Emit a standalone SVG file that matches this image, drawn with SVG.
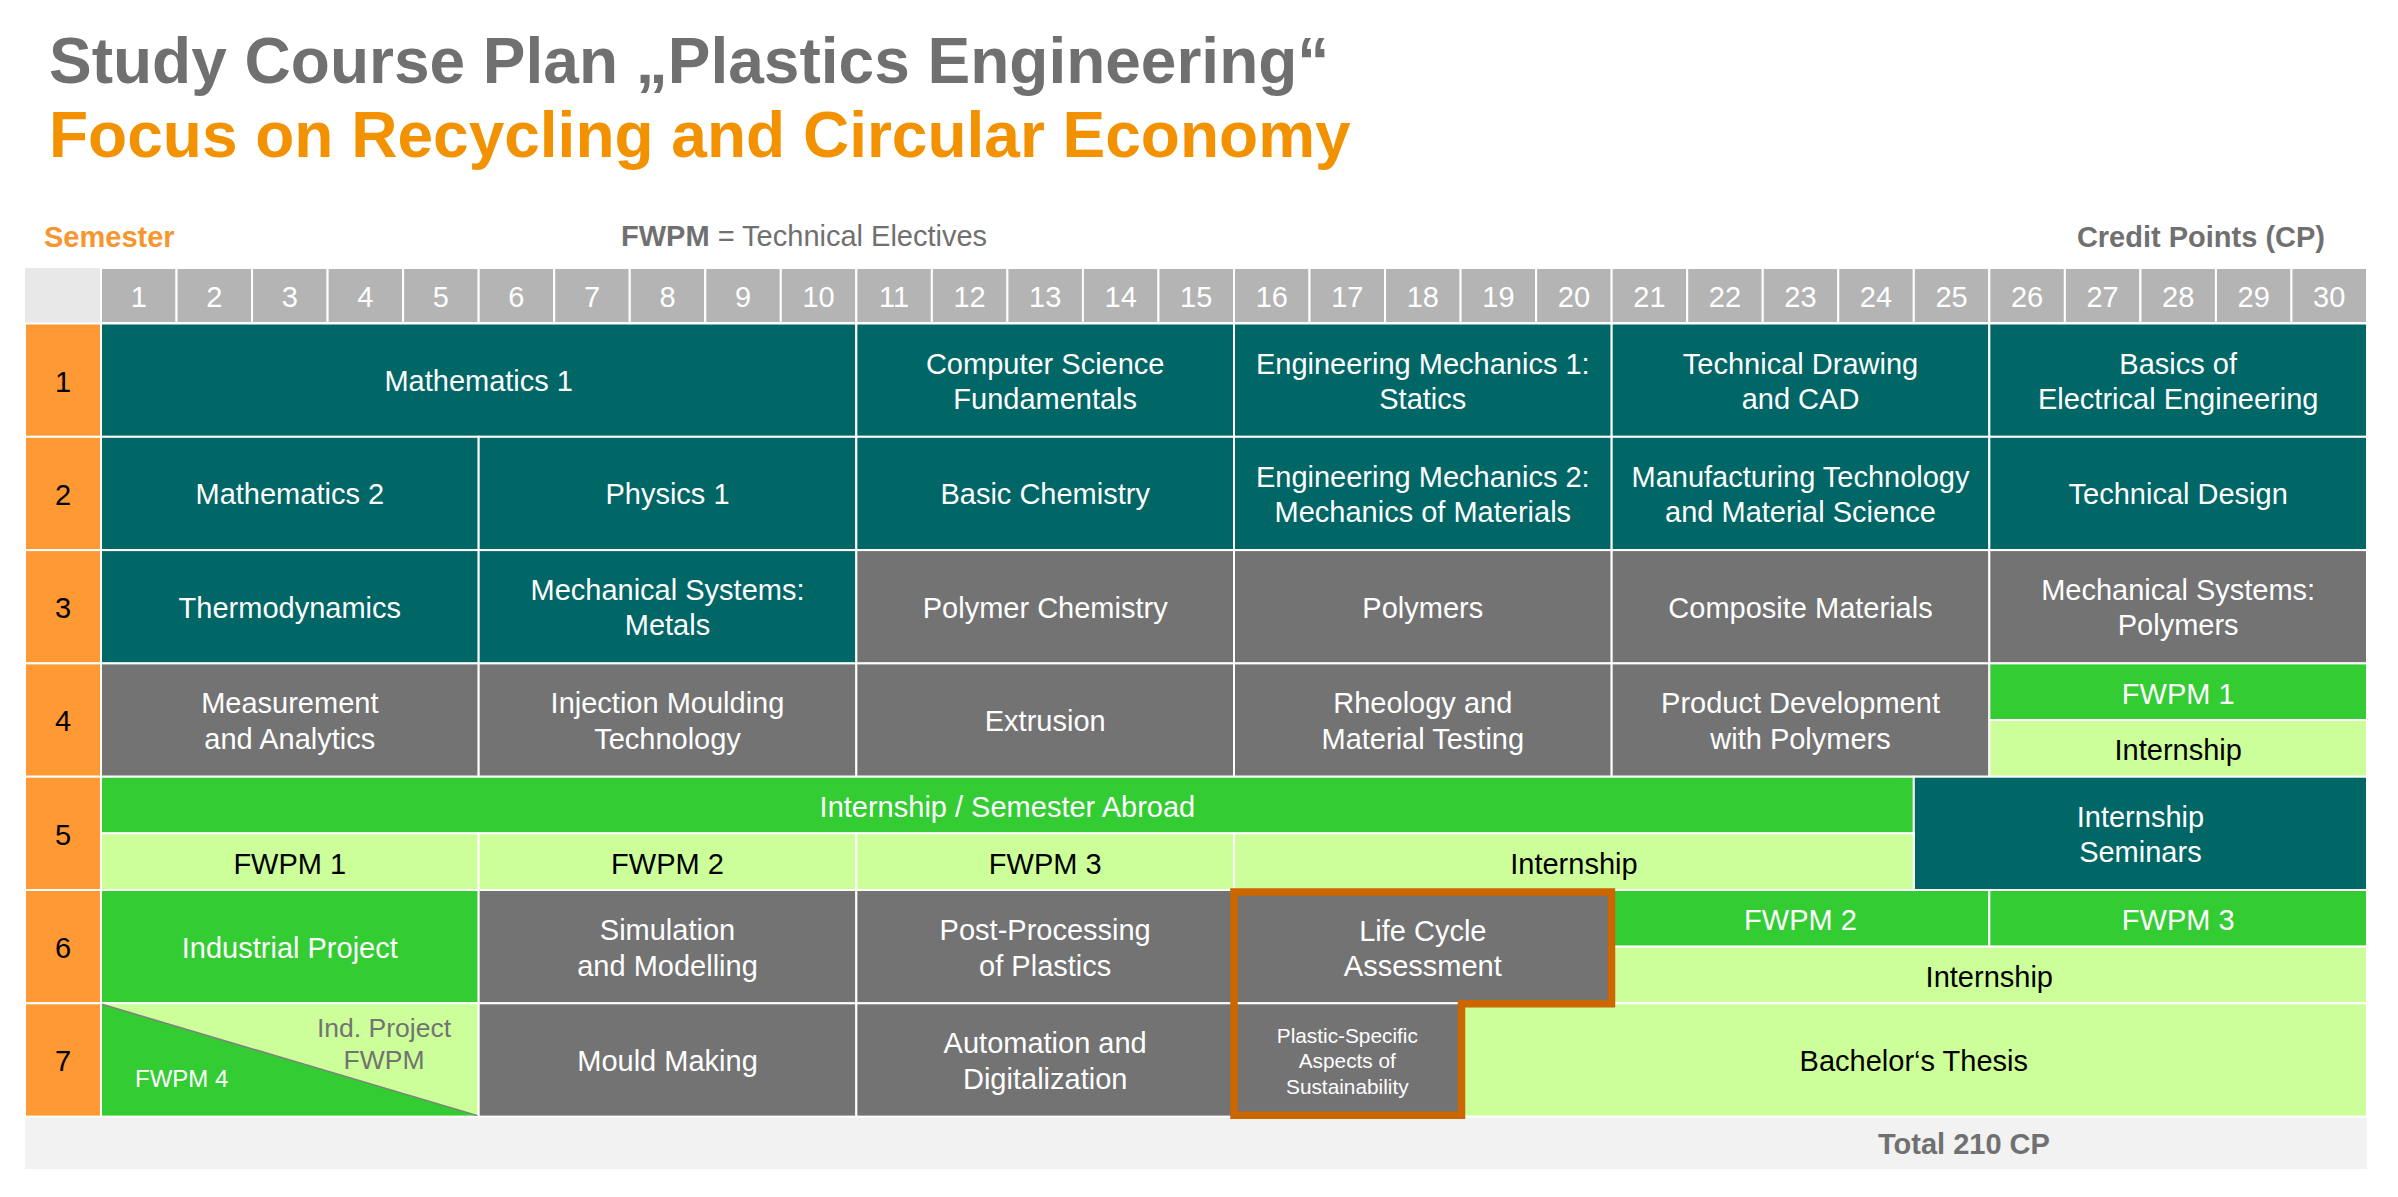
<svg xmlns="http://www.w3.org/2000/svg" width="2398" height="1197" viewBox="0 0 2398 1197">
<style>
text{font-family:"Liberation Sans",Arial,Helvetica,sans-serif}
.c{font-size:29px;text-anchor:middle}
.w{fill:#ffffff}
.k{fill:#000000}
.g{fill:#737373}
.b{font-weight:bold}
.cell{stroke:#ffffff;stroke-width:2}
.teal{fill:#006666}
.gry{fill:#737373}
.grn{fill:#33CC33}
.lgr{fill:#CCFF99}
.hdr{fill:#B4B4B4}
.sem{fill:#FF9933}
.sm{font-size:20.8px;text-anchor:middle}
</style>
<rect x="0" y="0" width="2398" height="1197" fill="#ffffff"/>

<g id="title">
<text x="49" y="83" font-size="64" class="b" fill="#707070">Study Course Plan „Plastics Engineering“</text>
<text x="49" y="157" font-size="64" class="b" fill="#F39200">Focus on Recycling and Circular Economy</text>
</g>

<g id="labels">
<text x="44" y="247" font-size="29" class="b" fill="#F7962F">Semester</text>
<text x="621" y="246" font-size="29" fill="#707070"><tspan font-weight="bold">FWPM</tspan> = Technical Electives</text>
<text x="2325" y="247" font-size="29" class="b" fill="#707070" text-anchor="end">Credit Points (CP)</text>
</g>

<g id="header">
<rect x="25" y="268" width="76" height="55" fill="#E8E8E8"/>
<g class="cell hdr">
<rect x="101" y="268" width="75.53" height="55"/><rect x="176.53" y="268" width="75.53" height="55"/><rect x="252.07" y="268" width="75.53" height="55"/><rect x="327.6" y="268" width="75.53" height="55"/><rect x="403.13" y="268" width="75.53" height="55"/>
<rect x="478.67" y="268" width="75.53" height="55"/><rect x="554.2" y="268" width="75.53" height="55"/><rect x="629.73" y="268" width="75.53" height="55"/><rect x="705.27" y="268" width="75.53" height="55"/><rect x="780.8" y="268" width="75.53" height="55"/>
<rect x="856.33" y="268" width="75.53" height="55"/><rect x="931.87" y="268" width="75.53" height="55"/><rect x="1007.4" y="268" width="75.53" height="55"/><rect x="1082.93" y="268" width="75.53" height="55"/><rect x="1158.47" y="268" width="75.53" height="55"/>
<rect x="1234" y="268" width="75.53" height="55"/><rect x="1309.53" y="268" width="75.53" height="55"/><rect x="1385.07" y="268" width="75.53" height="55"/><rect x="1460.6" y="268" width="75.53" height="55"/><rect x="1536.13" y="268" width="75.53" height="55"/>
<rect x="1611.67" y="268" width="75.53" height="55"/><rect x="1687.2" y="268" width="75.53" height="55"/><rect x="1762.73" y="268" width="75.53" height="55"/><rect x="1838.27" y="268" width="75.53" height="55"/><rect x="1913.8" y="268" width="75.53" height="55"/>
<rect x="1989.33" y="268" width="75.53" height="55"/><rect x="2064.87" y="268" width="75.53" height="55"/><rect x="2140.4" y="268" width="75.53" height="55"/><rect x="2215.93" y="268" width="75.53" height="55"/><rect x="2291.47" y="268" width="75.53" height="55"/>
</g>
<g class="c w">
<text x="138.8" y="306.5">1</text><text x="214.3" y="306.5">2</text><text x="289.8" y="306.5">3</text><text x="365.4" y="306.5">4</text><text x="440.9" y="306.5">5</text>
<text x="516.4" y="306.5">6</text><text x="592" y="306.5">7</text><text x="667.5" y="306.5">8</text><text x="743" y="306.5">9</text><text x="818.6" y="306.5">10</text>
<text x="894.1" y="306.5">11</text><text x="969.6" y="306.5">12</text><text x="1045.2" y="306.5">13</text><text x="1120.7" y="306.5">14</text><text x="1196.2" y="306.5">15</text>
<text x="1271.8" y="306.5">16</text><text x="1347.3" y="306.5">17</text><text x="1422.8" y="306.5">18</text><text x="1498.4" y="306.5">19</text><text x="1573.9" y="306.5">20</text>
<text x="1649.4" y="306.5">21</text><text x="1725" y="306.5">22</text><text x="1800.5" y="306.5">23</text><text x="1876" y="306.5">24</text><text x="1951.6" y="306.5">25</text>
<text x="2027.1" y="306.5">26</text><text x="2102.6" y="306.5">27</text><text x="2178.2" y="306.5">28</text><text x="2253.7" y="306.5">29</text><text x="2329.2" y="306.5">30</text>
</g>
</g>

<g id="semesters">
<g class="cell sem">
<rect x="25" y="323.5" width="76" height="113.3"/><rect x="25" y="436.8" width="76" height="113.3"/><rect x="25" y="550.1" width="76" height="113.3"/><rect x="25" y="663.4" width="76" height="113.3"/><rect x="25" y="776.7" width="76" height="113.3"/><rect x="25" y="890" width="76" height="113.3"/><rect x="25" y="1003.3" width="76" height="113.3"/>
</g>
<g class="c k">
<text x="63" y="391.5">1</text><text x="63" y="504.8">2</text><text x="63" y="618.1">3</text><text x="63" y="731.4">4</text><text x="63" y="844.7">5</text><text x="63" y="958">6</text><text x="63" y="1071.3">7</text>
</g>
</g>

<!-- Semester 1 -->
<g id="mathematics-1"><rect class="cell teal" x="101" y="323.5" width="755.33" height="113.3"/><text class="c w" x="478.7" y="391">Mathematics 1</text></g>
<g id="computer-science"><rect class="cell teal" x="856.33" y="323.5" width="377.67" height="113.3"/><text class="c w" x="1045.2" y="373.5">Computer Science</text><text class="c w" x="1045.2" y="408.8">Fundamentals</text></g>
<g id="eng-mechanics-1"><rect class="cell teal" x="1234" y="323.5" width="377.67" height="113.3"/><text class="c w" x="1422.8" y="373.5">Engineering Mechanics 1:</text><text class="c w" x="1422.8" y="408.8">Statics</text></g>
<g id="technical-drawing"><rect class="cell teal" x="1611.67" y="323.5" width="377.67" height="113.3"/><text class="c w" x="1800.5" y="373.5">Technical Drawing</text><text class="c w" x="1800.5" y="408.8">and CAD</text></g>
<g id="electrical-engineering"><rect class="cell teal" x="1989.33" y="323.5" width="377.67" height="113.3"/><text class="c w" x="2178.2" y="373.5">Basics of</text><text class="c w" x="2178.2" y="408.8">Electrical Engineering</text></g>

<!-- Semester 2 -->
<g id="mathematics-2"><rect class="cell teal" x="101" y="436.8" width="377.67" height="113.3"/><text class="c w" x="289.8" y="504.4">Mathematics 2</text></g>
<g id="physics-1"><rect class="cell teal" x="478.67" y="436.8" width="377.67" height="113.3"/><text class="c w" x="667.5" y="504.4">Physics 1</text></g>
<g id="basic-chemistry"><rect class="cell teal" x="856.33" y="436.8" width="377.67" height="113.3"/><text class="c w" x="1045.2" y="504.4">Basic Chemistry</text></g>
<g id="eng-mechanics-2"><rect class="cell teal" x="1234" y="436.8" width="377.67" height="113.3"/><text class="c w" x="1422.8" y="486.8">Engineering Mechanics 2:</text><text class="c w" x="1422.8" y="522.1">Mechanics of Materials</text></g>
<g id="manufacturing-technology"><rect class="cell teal" x="1611.67" y="436.8" width="377.67" height="113.3"/><text class="c w" x="1800.5" y="486.8">Manufacturing Technology</text><text class="c w" x="1800.5" y="522.1">and Material Science</text></g>
<g id="technical-design"><rect class="cell teal" x="1989.33" y="436.8" width="377.67" height="113.3"/><text class="c w" x="2178.2" y="504.4">Technical Design</text></g>

<!-- Semester 3 -->
<g id="thermodynamics"><rect class="cell teal" x="101" y="550.1" width="377.67" height="113.3"/><text class="c w" x="289.8" y="617.7">Thermodynamics</text></g>
<g id="mech-systems-metals"><rect class="cell teal" x="478.67" y="550.1" width="377.67" height="113.3"/><text class="c w" x="667.5" y="600.1">Mechanical Systems:</text><text class="c w" x="667.5" y="635.4">Metals</text></g>
<g id="polymer-chemistry"><rect class="cell gry" x="856.33" y="550.1" width="377.67" height="113.3"/><text class="c w" x="1045.2" y="617.7">Polymer Chemistry</text></g>
<g id="polymers"><rect class="cell gry" x="1234" y="550.1" width="377.67" height="113.3"/><text class="c w" x="1422.8" y="617.7">Polymers</text></g>
<g id="composite-materials"><rect class="cell gry" x="1611.67" y="550.1" width="377.67" height="113.3"/><text class="c w" x="1800.5" y="617.7">Composite Materials</text></g>
<g id="mech-systems-polymers"><rect class="cell gry" x="1989.33" y="550.1" width="377.67" height="113.3"/><text class="c w" x="2178.2" y="600.1">Mechanical Systems:</text><text class="c w" x="2178.2" y="635.4">Polymers</text></g>

<!-- Semester 4 -->
<g id="measurement"><rect class="cell gry" x="101" y="663.4" width="377.67" height="113.3"/><text class="c w" x="289.8" y="713.4">Measurement</text><text class="c w" x="289.8" y="748.7">and Analytics</text></g>
<g id="injection-moulding"><rect class="cell gry" x="478.67" y="663.4" width="377.67" height="113.3"/><text class="c w" x="667.5" y="713.4">Injection Moulding</text><text class="c w" x="667.5" y="748.7">Technology</text></g>
<g id="extrusion"><rect class="cell gry" x="856.33" y="663.4" width="377.67" height="113.3"/><text class="c w" x="1045.2" y="731">Extrusion</text></g>
<g id="rheology"><rect class="cell gry" x="1234" y="663.4" width="377.67" height="113.3"/><text class="c w" x="1422.8" y="713.4">Rheology and</text><text class="c w" x="1422.8" y="748.7">Material Testing</text></g>
<g id="product-development"><rect class="cell gry" x="1611.67" y="663.4" width="377.67" height="113.3"/><text class="c w" x="1800.5" y="713.4">Product Development</text><text class="c w" x="1800.5" y="748.7">with Polymers</text></g>
<g id="s4-fwpm-1"><rect class="cell grn" x="1989.33" y="663.4" width="377.67" height="56.65"/><text class="c w" x="2178.2" y="703.5">FWPM 1</text></g>
<g id="s4-internship"><rect class="cell lgr" x="1989.33" y="720.05" width="377.67" height="56.65"/><text class="c k" x="2178.2" y="760.3">Internship</text></g>

<!-- Semester 5 -->
<g id="internship-abroad"><rect class="cell grn" x="101" y="776.7" width="1812.8" height="56.65"/><text class="c w" x="1007.4" y="816.8">Internship / Semester Abroad</text></g>
<g id="internship-seminars"><rect class="cell teal" x="1913.8" y="776.7" width="453.2" height="113.3"/><text class="c w" x="2140.4" y="826.7">Internship</text><text class="c w" x="2140.4" y="862">Seminars</text></g>
<g id="s5-fwpm-1"><rect class="cell lgr" x="101" y="833.35" width="377.67" height="56.65"/><text class="c k" x="289.8" y="874">FWPM 1</text></g>
<g id="s5-fwpm-2"><rect class="cell lgr" x="478.67" y="833.35" width="377.67" height="56.65"/><text class="c k" x="667.5" y="874">FWPM 2</text></g>
<g id="s5-fwpm-3"><rect class="cell lgr" x="856.33" y="833.35" width="377.67" height="56.65"/><text class="c k" x="1045.2" y="874">FWPM 3</text></g>
<g id="s5-internship"><rect class="cell lgr" x="1234" y="833.35" width="679.8" height="56.65"/><text class="c k" x="1573.9" y="874">Internship</text></g>

<!-- Semester 6 -->
<g id="industrial-project"><rect class="cell grn" x="101" y="890" width="377.67" height="113.3"/><text class="c w" x="289.8" y="957.8">Industrial Project</text></g>
<g id="simulation"><rect class="cell gry" x="478.67" y="890" width="377.67" height="113.3"/><text class="c w" x="667.5" y="940.2">Simulation</text><text class="c w" x="667.5" y="975.5">and Modelling</text></g>
<g id="post-processing"><rect class="cell gry" x="856.33" y="890" width="377.67" height="113.3"/><text class="c w" x="1045.2" y="940.2">Post-Processing</text><text class="c w" x="1045.2" y="975.5">of Plastics</text></g>
<g id="life-cycle-assessment"><rect class="cell gry" x="1234" y="890" width="377.67" height="113.3"/><text class="c w" x="1422.8" y="940.7">Life Cycle</text><text class="c w" x="1422.8" y="976">Assessment</text></g>
<g id="s6-fwpm-2"><rect class="cell grn" x="1611.67" y="890" width="377.67" height="56.65"/><text class="c w" x="1800.5" y="930.2">FWPM 2</text></g>
<g id="s6-fwpm-3"><rect class="cell grn" x="1989.33" y="890" width="377.67" height="56.65"/><text class="c w" x="2178.2" y="930.2">FWPM 3</text></g>
<g id="s6-internship"><rect class="cell lgr" x="1611.67" y="946.65" width="755.33" height="56.65"/><text class="c k" x="1989.3" y="986.9">Internship</text></g>

<!-- Semester 7 -->
<g id="fwpm-4-ind-project">
<rect class="cell lgr" x="101" y="1003.3" width="377.67" height="113.3"/>
<polygon points="102,1004.3 477.67,1115.6 102,1115.6" fill="#33CC33"/>
<line x1="102" y1="1004.3" x2="477.67" y2="1115.6" stroke="#808080" stroke-width="1.5"/>
<text class="g" x="384" y="1036.7" font-size="26.5" text-anchor="middle">Ind. Project</text>
<text class="g" x="384" y="1069" font-size="26.5" text-anchor="middle">FWPM</text>
<text class="w" x="135" y="1087.3" font-size="24">FWPM 4</text>
</g>
<g id="mould-making"><rect class="cell gry" x="478.67" y="1003.3" width="377.67" height="113.3"/><text class="c w" x="667.5" y="1070.9">Mould Making</text></g>
<g id="automation"><rect class="cell gry" x="856.33" y="1003.3" width="377.67" height="113.3"/><text class="c w" x="1045.2" y="1053.3">Automation and</text><text class="c w" x="1045.2" y="1088.6">Digitalization</text></g>
<g id="plastic-specific"><rect class="cell gry" x="1234" y="1003.3" width="226.6" height="113.3"/><text class="w sm" x="1347.3" y="1042.7">Plastic-Specific</text><text class="w sm" x="1347.3" y="1068.3">Aspects of</text><text class="w sm" x="1347.3" y="1094">Sustainability</text></g>
<g id="bachelors-thesis"><rect class="cell lgr" x="1460.6" y="1003.3" width="906.4" height="113.3"/><text class="c k" x="1913.8" y="1070.9">Bachelor‘s Thesis</text></g>

<g id="total">
<rect x="25" y="1117.6" width="2342" height="51.4" fill="#F2F2F2"/>
<text x="1878" y="1154" font-size="29" class="b" fill="#707070">Total 210 CP</text>
</g>

<g id="highlight">
<path d="M1234,892 H1611.5 V1003.7 H1461.5 V1115.2 H1234 Z" fill="none" stroke="#CC6600" stroke-width="7.5" stroke-linejoin="miter"/>
</g>

<g id="connectors"></g>
</svg>
